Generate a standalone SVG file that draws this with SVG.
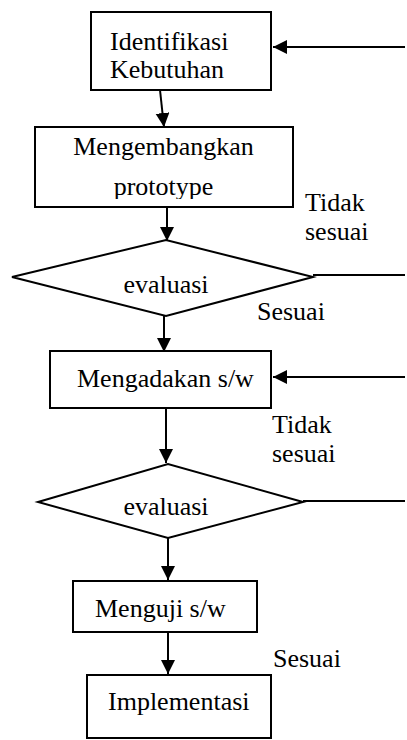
<svg xmlns="http://www.w3.org/2000/svg" width="407" height="740" viewBox="0 0 407 740">
<style>
.box{fill:#fff;stroke:#000;stroke-width:2}
.t{font-family:"Liberation Serif","Times New Roman",serif;font-size:26px;fill:#000}
.c{text-anchor:middle}
.ln{stroke:#000;stroke-width:2;fill:none}
</style>
<defs>
<marker id="ah" markerUnits="userSpaceOnUse" markerWidth="15" markerHeight="15" refX="14" refY="7" orient="auto">
<path d="M0,0 L14,7 L0,14 z" fill="#000"/>
</marker>
<clipPath id="clip2"><rect x="35" y="127" width="258" height="72"/></clipPath>
</defs>
<rect width="407" height="740" fill="#fff"/>
<g id="connectors">
<line class="ln" x1="405" y1="47" x2="273" y2="47" marker-end="url(#ah)"/>
<line class="ln" x1="160" y1="90" x2="164" y2="127" marker-end="url(#ah)"/>
<line class="ln" x1="167" y1="207" x2="167" y2="241" marker-end="url(#ah)"/>
<line class="ln" x1="313" y1="275" x2="405" y2="275"/>
<line class="ln" x1="164" y1="316" x2="164" y2="352" marker-end="url(#ah)"/>
<line class="ln" x1="405" y1="377" x2="273" y2="377" marker-end="url(#ah)"/>
<line class="ln" x1="166" y1="408" x2="166" y2="463" marker-end="url(#ah)"/>
<line class="ln" x1="303" y1="501" x2="405" y2="501"/>
<line class="ln" x1="168" y1="538" x2="168" y2="580" marker-end="url(#ah)"/>
<line class="ln" x1="168" y1="632" x2="168" y2="674" marker-end="url(#ah)"/>
</g>
<g id="n1">
<rect class="box" x="91" y="12" width="180" height="78"/>
<text class="t" x="110" y="50">Identifikasi</text>
<text class="t" x="110" y="78">Kebutuhan</text>
</g>
<g id="n2">
<rect class="box" x="35" y="127" width="258" height="80"/>
<text class="t c" x="163.5" y="155">Mengembangkan</text>
<text class="t c" x="163.5" y="195" clip-path="url(#clip2)">prototype</text>
</g>
<g id="d1">
<polygon class="box" points="12,277 166,240 313,277 166,316"/>
<text class="t c" x="166" y="293">evaluasi</text>
</g>
<g id="n3">
<rect class="box" x="50" y="351" width="221" height="57"/>
<text class="t" x="77" y="387">Mengadakan s/w</text>
</g>
<g id="d2">
<polygon class="box" points="38,502 168,464 303,502 168,538"/>
<text class="t c" x="166" y="515">evaluasi</text>
</g>
<g id="n4">
<rect class="box" x="73" y="581" width="184" height="51"/>
<text class="t" x="95" y="617">Menguji s/w</text>
</g>
<g id="n5">
<rect class="box" x="87" y="675" width="184" height="63"/>
<text class="t" x="108" y="710">Implementasi</text>
</g>
<g id="labels">
<text class="t" x="305" y="211">Tidak</text>
<text class="t" x="305" y="240">sesuai</text>
<text class="t" x="257" y="320">Sesuai</text>
<text class="t" x="272" y="433">Tidak</text>
<text class="t" x="272" y="462">sesuai</text>
<text class="t" x="273" y="667">Sesuai</text>
</g>
</svg>
